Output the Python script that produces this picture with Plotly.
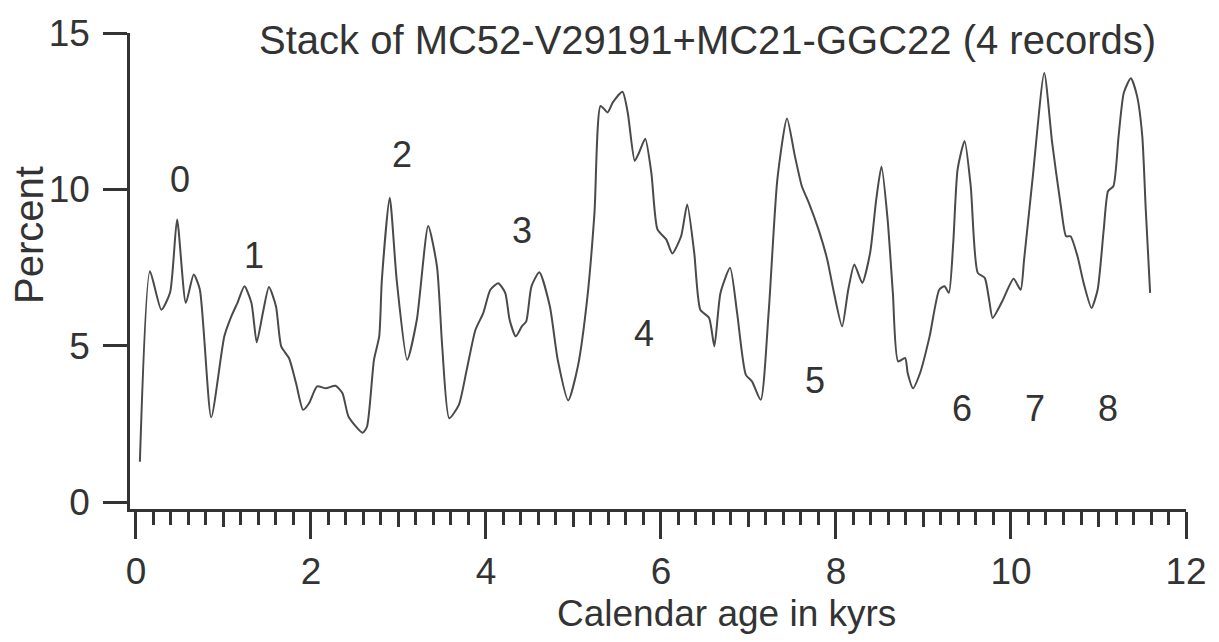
import plotly.graph_objects as go

# Calendar age (kyrs) and percent values
age = [0.045, 0.16, 0.29, 0.39, 0.47, 0.57, 0.66, 0.73, 0.86, 1.01, 1.09, 1.16, 1.24, 1.32,
       1.38, 1.45, 1.52, 1.60, 1.66, 1.75, 1.83, 1.91, 1.98, 2.07, 2.17, 2.28, 2.36, 2.43,
       2.59, 2.64, 2.72, 2.78, 2.81, 2.90, 2.98, 3.10, 3.21, 3.34, 3.44, 3.50, 3.58, 3.69,
       3.78, 3.88, 3.97, 4.05, 4.14, 4.22, 4.27, 4.34, 4.41, 4.46, 4.52, 4.61, 4.73, 4.82,
       4.94, 5.05, 5.16, 5.24, 5.31, 5.39, 5.45, 5.56, 5.62, 5.70, 5.75, 5.82, 5.89, 5.96,
       6.06, 6.13, 6.23, 6.30, 6.38, 6.45, 6.55, 6.61, 6.68, 6.79, 6.87, 6.97, 7.04, 7.14,
       7.23, 7.33, 7.44, 7.53, 7.61, 7.69, 7.80, 7.90, 7.97, 8.07, 8.14, 8.21, 8.30, 8.39,
       8.46, 8.52, 8.59, 8.65, 8.71, 8.79, 8.82, 8.88, 8.96, 9.07, 9.18, 9.24, 9.29, 9.34,
       9.39, 9.47, 9.54, 9.62, 9.70, 9.75, 9.79, 9.90, 10.03, 10.11, 10.15, 10.25, 10.38,
       10.47, 10.57, 10.63, 10.68, 10.76, 10.83, 10.92, 10.99, 11.06, 11.11, 11.17, 11.23,
       11.29, 11.37, 11.44, 11.50, 11.54, 11.59]
percent = [1.29, 7.38, 6.15, 6.7, 9.04, 6.37, 7.28, 6.8, 2.71, 5.3, 5.94, 6.37, 6.9, 6.37,
           5.11, 6.05, 6.88, 6.26, 4.98, 4.6, 3.8, 2.95, 3.17, 3.7, 3.64, 3.72, 3.48, 2.73,
           2.22, 2.41, 4.55, 5.3, 7.1, 9.73, 7.1, 4.55, 5.83, 8.83, 7.54, 4.98, 2.68, 3.11,
           4.23, 5.51, 6.05, 6.79, 7.0, 6.69, 5.83, 5.3, 5.62, 5.78, 6.9, 7.35, 6.26, 4.55,
           3.25, 4.34, 6.58, 9.25, 12.67, 12.46, 12.78, 13.12, 12.46, 10.91, 11.18, 11.62, 10.53, 8.72,
           8.4, 7.95, 8.5, 9.52, 7.97, 6.15, 5.89, 4.98, 6.69, 7.49, 6.05, 4.07, 3.86, 3.27,
           6.05, 10.32, 12.27, 11.07, 10.1, 9.57, 8.72, 7.76, 6.79, 5.62, 6.79, 7.6, 7.01, 7.97,
           9.68, 10.73, 9.04, 6.69, 4.5, 4.61, 4.12, 3.64, 4.12, 5.3, 6.79, 6.9, 6.69, 8.29,
           10.64, 11.55, 10.1, 7.33, 7.17, 6.47, 5.89, 6.42, 7.14, 6.79, 7.76, 10.43, 13.72,
           11.5, 9.46, 8.5, 8.5, 7.86, 7.01, 6.21, 6.79, 8.72, 9.95, 10.1, 11.71,
           13.1, 13.55, 12.99, 11.71, 9.36, 6.69]

# Event labels and their positions (data coordinates)
event_labels = ["0", "1", "2", "3", "4", "5", "6", "7", "8"]
event_x = [0.50, 1.35, 3.04, 4.41, 5.81, 7.76, 9.44, 10.28, 11.11]
event_y = [10.3, 7.9, 11.1, 8.7, 5.4, 3.9, 3.0, 3.0, 3.0]

x_major = [0, 2, 4, 6, 8, 10, 12]
x_mid = [1, 3, 5, 7, 9, 11]
y_ticks = [0, 5, 10, 15]

FONT = "Liberation Sans, Arial, Helvetica, sans-serif"
INK = "#333333"

fig = go.Figure()
fig.add_trace(go.Scatter(x=age, y=percent, mode="lines",
                         line=dict(color="#4a4a4a", width=2, shape="spline", smoothing=0.6),
                         showlegend=False, hoverinfo="skip"))
# invisible trace so the overlaid axis carrying the mid ticks is drawn
fig.add_trace(go.Scatter(x=[x_mid[0]], y=[0], xaxis="x2", mode="markers",
                         marker=dict(opacity=0), showlegend=False, hoverinfo="skip"))

for lab, ex, ey in zip(event_labels, event_x, event_y):
    fig.add_annotation(x=ex, y=ey, text=lab, showarrow=False,
                       font=dict(family=FONT, size=36, color=INK))

fig.add_annotation(xref="paper", yref="paper", x=0.547, y=0.985,
                   text="Stack of MC52-V29191+MC21-GGC22 (4 records)",
                   showarrow=False, font=dict(family=FONT, size=40, color=INK),
                   xanchor="center", yanchor="middle")
fig.add_annotation(xref="paper", yref="paper", x=-0.095, y=0.575, text="Percent", textangle=-90,
                   showarrow=False, font=dict(family=FONT, size=40, color=INK),
                   xanchor="center", yanchor="middle")
fig.add_annotation(xref="x", yref="paper", x=6.75, y=-0.22, text="Calendar age in kyrs",
                   showarrow=False, font=dict(family=FONT, size=37, color=INK),
                   xanchor="center", yanchor="middle")

fig.update_layout(
    width=1219, height=642,
    margin=dict(l=130, r=28, t=33, b=133),
    paper_bgcolor="white", plot_bgcolor="white",
    showlegend=False,
    xaxis=dict(range=[-0.068, 12], showgrid=False, zeroline=False,
               showline=True, linecolor=INK, linewidth=2.5,
               tickmode="array", tickvals=x_major, ticks="outside", ticklen=27, tickwidth=2.5,
               tickcolor=INK, ticklabelstandoff=1,
               tickfont=dict(family=FONT, size=37, color=INK),
               minor=dict(dtick=0.2, tick0=0, ticks="outside", ticklen=13, tickwidth=2.5, tickcolor=INK)),
    xaxis2=dict(range=[-0.068, 12], overlaying="x", side="bottom", showgrid=False, zeroline=False,
                showline=False, tickmode="array", tickvals=x_mid, ticks="outside", ticklen=17,
                tickwidth=2.5, tickcolor=INK, showticklabels=False),
    yaxis=dict(range=[-0.22, 15], showgrid=False, zeroline=False,
               showline=True, linecolor=INK, linewidth=2.5,
               tickmode="array", tickvals=y_ticks, ticks="outside", ticklen=24, tickwidth=2.5,
               tickcolor=INK, ticklabelstandoff=6,
               tickfont=dict(family=FONT, size=37, color=INK)),
)

fig.write_html("out.html")
